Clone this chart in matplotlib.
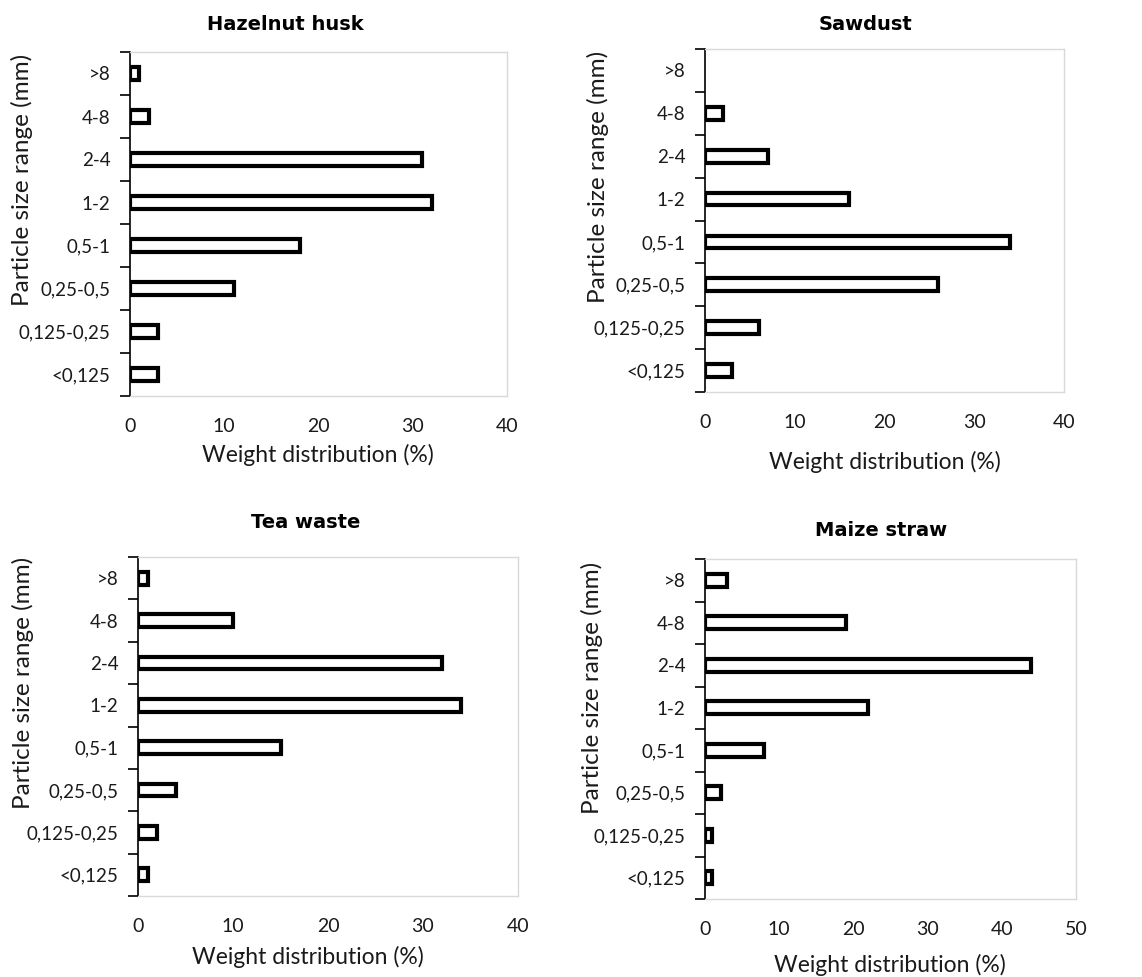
import numpy as np
import matplotlib
matplotlib.use("Agg")
import matplotlib.pyplot as plt

plt.rcParams['font.family'] = ['Lato', 'DejaVu Sans']

# size classes, bottom to top
size_ranges = ["<0,125", "0,125-0,25", "0,25-0,5", "0,5-1", "1-2", "2-4", "4-8", ">8"]

hazelnut_husk = [3, 3, 11, 18, 32, 31, 2, 1]
sawdust = [3, 6, 26, 34, 16, 7, 2, 0]
tea_waste = [1.1, 2, 4, 15, 34, 32, 10, 1.1]
maize_straw = [1, 1, 2.1, 8, 22, 44, 19, 3]

titles = ["Hazelnut husk", "Sawdust", "Tea waste", "Maize straw"]
datasets = [hazelnut_husk, sawdust, tea_waste, maize_straw]
xmax = [40, 40, 40, 50]

W, H = 1142, 977
# axes boxes in pixels: left, top, right, bottom
boxes = [(130, 52, 507, 396), (705, 49, 1064, 392),
         (138, 557, 518, 896), (705, 559, 1076, 899)]
title_pos = [(285, 24), (865, 24), (306, 523), (881, 531)]
xlabel_pos = [(318, 455), (885, 462), (308, 957), (890, 965)]
ylabel_pos = [(22, 180), (598, 177), (23, 683), (592, 688)]

fig = plt.figure(figsize=(W / 100, H / 100), dpi=100)

for i in range(4):
    l, t, r, b = boxes[i]
    ax = fig.add_axes([l / W, 1 - b / H, (r - l) / W, (b - t) / H])
    vals = np.array(datasets[i], dtype=float)
    pos = np.arange(len(size_ranges))
    show = vals > 0
    ax.barh(pos[show], vals[show], height=0.3, color="white",
            edgecolor="black", linewidth=3.0)
    ax.set_ylim(-0.5, len(size_ranges) - 0.5)
    ax.set_xlim(0, xmax[i])
    ax.set_xticks(np.arange(0, xmax[i] + 1, 10))
    ax.set_yticks(pos)
    ax.set_yticklabels(size_ranges)
    ax.set_yticks(np.arange(-0.5, len(size_ranges)), minor=True)
    ax.tick_params(axis="y", which="major", length=0, pad=14, labelsize=13.5, colors="#1a1a1a")
    ax.tick_params(axis="y", which="minor", length=7, width=1.2, direction="out")
    ax.tick_params(axis="x", length=0, pad=16, labelsize=14, colors="#1a1a1a")
    for s in ["top", "right", "bottom"]:
        ax.spines[s].set_color("#d9d9d9")
        ax.spines[s].set_linewidth(1.0)
    ax.spines["left"].set_color("black")
    ax.spines["left"].set_linewidth(1.2)

    tx, ty = title_pos[i]
    fig.text(tx / W, 1 - ty / H, titles[i], ha="center", va="center",
             fontsize=14, fontweight="bold", family="DejaVu Sans")
    xx, xy = xlabel_pos[i]
    fig.text(xx / W, 1 - xy / H, "Weight distribution (%)", ha="center",
             va="center", fontsize=16.5, color="#1a1a1a")
    yx, yy = ylabel_pos[i]
    fig.text(yx / W, 1 - yy / H, "Particle size range (mm)", ha="center",
             va="center", rotation=90, fontsize=17.5, color="#1a1a1a")

fig.savefig("out.png", dpi=100)
